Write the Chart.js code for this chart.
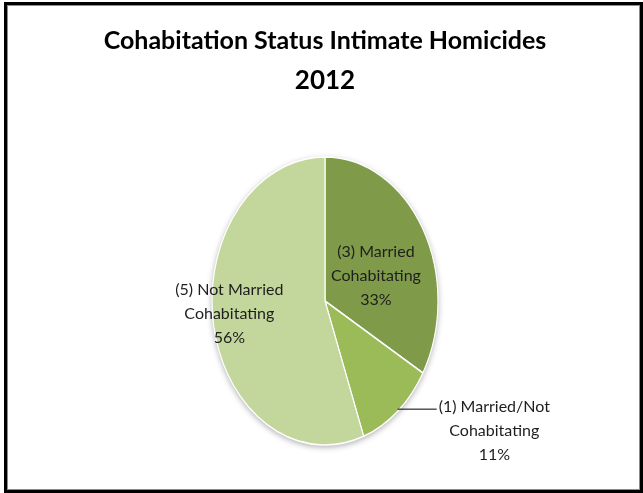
<!DOCTYPE html>
<html>
<head>
<meta charset="utf-8">
<title>Cohabitation Status Intimate Homicides 2012</title>
<script src="https://cdn.jsdelivr.net/npm/chart.js"></script>
<style>
    html, body { margin: 0; padding: 0; background: #fff; }
    #wrap { position: relative; width: 643px; height: 493px; overflow: hidden; }
    #frame {
        position: absolute; left: 4px; top: 2px;
        width: 633px; height: 485px;
        border: 3px solid #000;
        box-shadow: inset 1px 1px 0 #8c8c8c, inset -1px -1px 0 #8c8c8c;
    }
    #chart { position: absolute; left: 0; top: 0; }
</style>
</head>
<body>
<div id="wrap">
    <div id="frame"></div>
    <canvas id="chart" width="643" height="493"></canvas>
</div>
<script>
// incidents per cohabitation status, 2012
const categories = ['Married Cohabitating', 'Married/Not Cohabitating', 'Not Married Cohabitating'];
const categoryLines = [['Married', 'Cohabitating'], ['Married/Not', 'Cohabitating'], ['Not Married', 'Cohabitating']];
const counts = [3, 1, 5];
const sliceColors = ['#7f9b49', '#9bbb59', '#c3d69b'];

const total = counts.reduce((a, b) => a + b, 0);
const percents = counts.map(c => Math.round(c / total * 100) + '%');

// the pie is drawn as an upright oval
const xSqueeze = 113 / 144;
const fontFamily = 'Lato, "Open Sans", sans-serif';

// where each slice's label sits, relative to the middle of the slice
const labelPlacement = [
    { dx: 2, dy: 11, leader: false },
    { dx: 133, dy: 75, leader: true },
    { dx: -40, dy: 0, leader: false },
];

const ovalPie = {
    id: 'ovalPie',
    beforeDatasetsDraw(chart) {
        const arc = chart.getDatasetMeta(0).data[0];
        const ctx = chart.ctx;
        ctx.save();
        ctx.translate(arc.x, arc.y);
        ctx.scale(xSqueeze, 1);
        ctx.translate(-arc.x, -arc.y);
        // soft drop shadow under the whole pie
        ctx.save();
        ctx.shadowColor = 'rgba(0, 0, 0, 0.35)';
        ctx.shadowBlur = 6;
        ctx.shadowOffsetY = 2;
        ctx.beginPath();
        ctx.arc(arc.x, arc.y, arc.outerRadius, 0, Math.PI * 2);
        ctx.fillStyle = '#ffffff';
        ctx.fill();
        ctx.restore();
    },
    afterDatasetsDraw(chart) {
        chart.ctx.restore();
    }
};

const sliceLabels = {
    id: 'sliceLabels',
    afterDraw(chart) {
        const ctx = chart.ctx;
        const lineHeight = 24;
        ctx.save();
        ctx.font = '16px ' + fontFamily;
        ctx.fillStyle = '#1e1e1e';
        ctx.textAlign = 'center';
        ctx.textBaseline = 'middle';
        chart.getDatasetMeta(0).data.forEach((arc, i) => {
            const mid = (arc.startAngle + arc.endAngle) / 2;
            const r = arc.outerRadius;
            const ax = arc.x + Math.cos(mid) * r / 2 * xSqueeze;
            const ay = arc.y + Math.sin(mid) * r / 2;
            const place = labelPlacement[i];
            const cx = ax + place.dx;
            const cy = ay + place.dy;
            const lines = ['(' + counts[i] + ') ' + categoryLines[i][0], categoryLines[i][1], percents[i]];
            lines.forEach((t, j) => {
                ctx.fillText(t, cx, cy + (j - 1) * lineHeight);
            });
            if (place.leader) {
                const ex = arc.x + Math.cos(mid) * r * xSqueeze;
                const ey = arc.y + Math.sin(mid) * r;
                const firstY = cy - lineHeight + 2;
                const left = cx - ctx.measureText(lines[0]).width / 2 - 2;
                ctx.beginPath();
                ctx.strokeStyle = '#000';
                ctx.lineWidth = 1;
                ctx.moveTo(ex, firstY);
                ctx.lineTo(left, firstY);
                ctx.stroke();
            }
        });
        ctx.restore();
    }
};

new Chart(document.getElementById('chart'), {
    type: 'pie',
    data: {
        labels: categories,
        datasets: [{
            data: counts,
            backgroundColor: sliceColors,
            borderColor: '#ffffff',
            borderWidth: 1.5,
            radius: 144,
        }],
    },
    options: {
        responsive: false,
        animation: false,
        layout: { padding: { left: 7, right: 0, top: 0, bottom: 1 } },
        plugins: {
            legend: { display: false },
            tooltip: { enabled: false },
            title: {
                display: true,
                text: 'Cohabitation Status Intimate Homicides',
                color: '#000',
                font: { family: fontFamily, size: 25, weight: 'bold' },
                padding: { top: 26, bottom: 0 },
            },
            subtitle: {
                display: true,
                text: '2012',
                color: '#000',
                font: { family: fontFamily, size: 26, weight: 'bold' },
                padding: { top: 9.4, bottom: 13.4 },
            },
        },
    },
    plugins: [ovalPie, sliceLabels],
});
</script>
</body>
</html>
